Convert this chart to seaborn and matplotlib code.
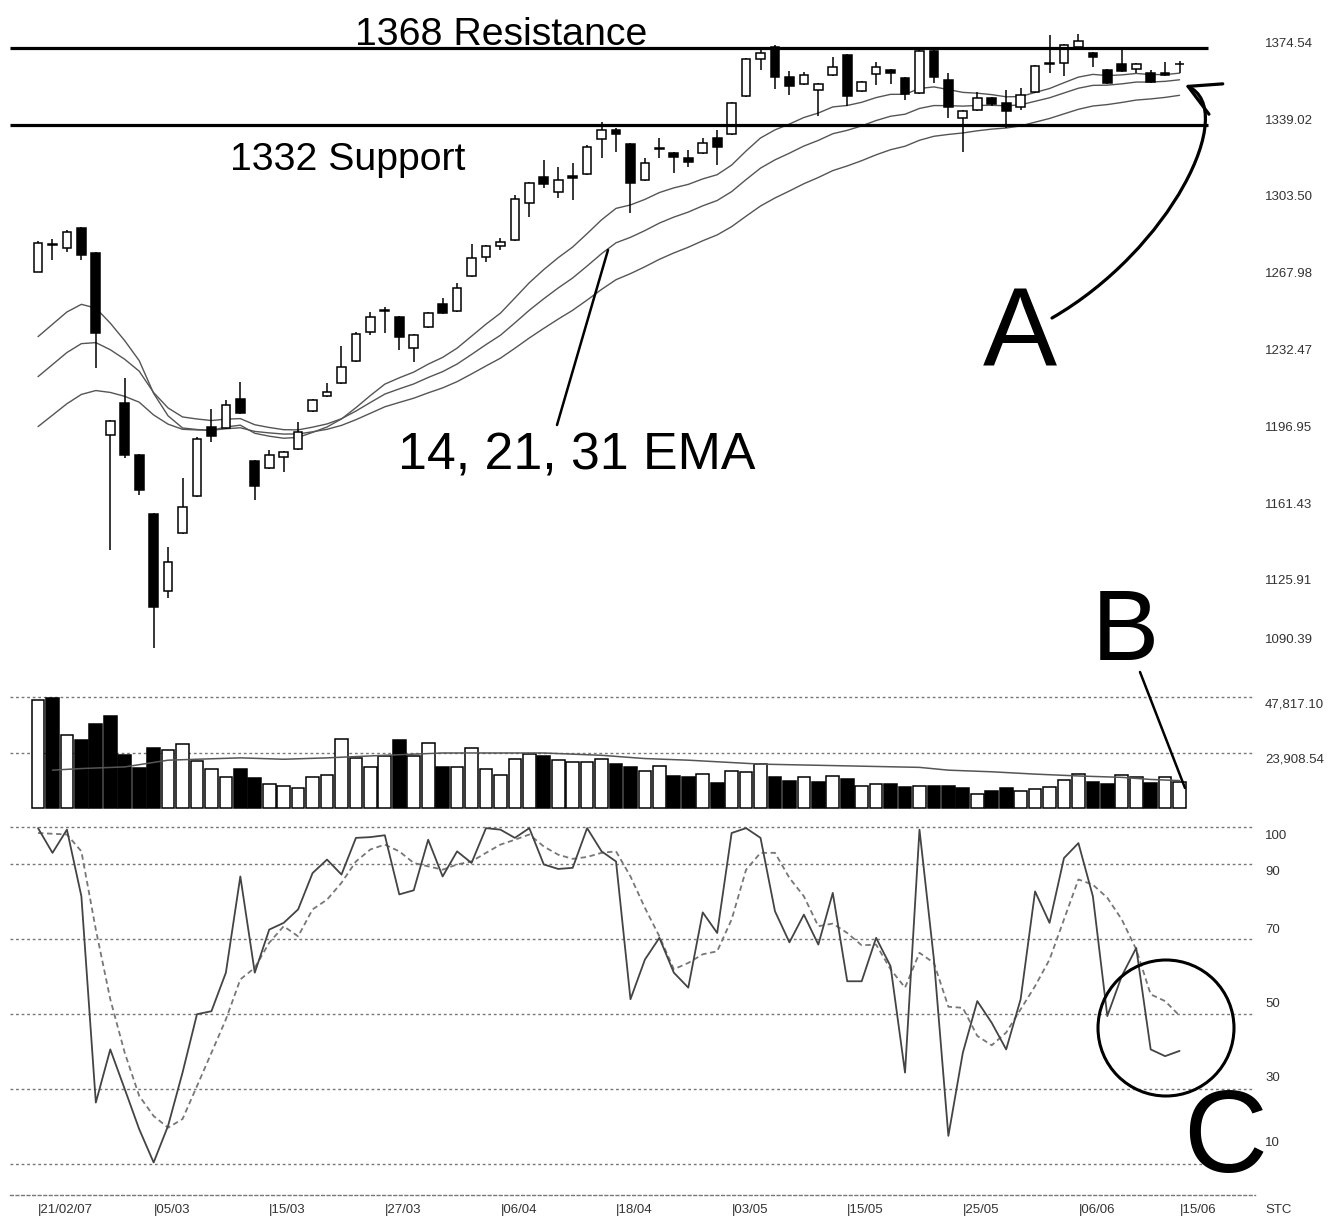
import matplotlib
matplotlib.use('Agg')
import matplotlib.pyplot as plt
import matplotlib.transforms as mtransforms
from matplotlib import font_manager
from matplotlib.patches import Circle, FancyArrowPatch
from matplotlib.path import Path
from matplotlib.lines import Line2D
import numpy as np
import pandas as pd
import seaborn as sns

# daily candles, 21/02/07 .. 15/06/07
opens = [1269.1, 1281.6, 1280.0, 1289.2, 1277.9, 1193.6, 1208.6, 1184.4, 1157.1, 1121.6,
         1148.1, 1165.4, 1197.5, 1196.7, 1210.1, 1181.7, 1178.2, 1183.6, 1187.0, 1204.7,
         1211.7, 1217.8, 1227.8, 1241.4, 1251.0, 1248.3, 1233.7, 1243.4, 1254.2, 1251.1,
         1267.1, 1276.1, 1281.0, 1283.8, 1301.1, 1313.1, 1306.1, 1313.4, 1314.3, 1330.6,
         1334.7, 1328.2, 1311.5, 1326.1, 1323.9, 1321.6, 1324.2, 1330.8, 1332.8, 1350.4,
         1367.4, 1373.2, 1359.3, 1356.0, 1353.2, 1360.1, 1369.4, 1352.9, 1360.6, 1362.4,
         1358.6, 1351.6, 1371.4, 1357.8, 1340.1, 1343.9, 1349.6, 1347.3, 1345.5, 1352.4,
         1365.4, 1365.5, 1373.2, 1370.4, 1362.4, 1365.2, 1362.7, 1360.9, 1361.2, 1365.0]
highs = [1283.3, 1284.3, 1288.4, 1289.9, 1278.3, 1200.6, 1219.8, 1184.9, 1157.6, 1141.9,
         1173.9, 1192.8, 1205.5, 1209.8, 1218.3, 1182.2, 1186.7, 1186.4, 1199.8, 1210.3,
         1217.5, 1234.8, 1241.4, 1250.6, 1253.0, 1248.8, 1240.4, 1250.7, 1256.8, 1263.8,
         1281.9, 1281.5, 1284.6, 1304.6, 1310.5, 1320.8, 1317.7, 1319.3, 1327.8, 1338.5,
         1335.6, 1328.7, 1321.6, 1330.8, 1324.4, 1325.4, 1330.8, 1334.7, 1347.8, 1367.9,
         1371.7, 1374.0, 1362.1, 1361.6, 1356.5, 1368.6, 1369.9, 1357.5, 1366.3, 1362.9,
         1359.1, 1371.9, 1371.9, 1360.9, 1343.9, 1352.4, 1350.1, 1353.2, 1354.0, 1364.8,
         1378.6, 1374.5, 1379.1, 1370.9, 1362.9, 1371.7, 1365.7, 1362.4, 1366.3, 1366.7]
lows = [1269.0, 1274.6, 1278.4, 1274.6, 1224.5, 1140.4, 1183.0, 1165.9, 1095.0, 1118.1,
        1147.6, 1164.9, 1190.5, 1196.2, 1203.1, 1163.6, 1177.7, 1176.6, 1186.5, 1204.2,
        1211.2, 1217.3, 1227.3, 1239.9, 1240.6, 1232.9, 1227.5, 1242.9, 1249.4, 1250.6,
        1266.6, 1273.8, 1279.2, 1283.3, 1294.6, 1307.7, 1303.1, 1302.3, 1313.8, 1321.6,
        1324.6, 1296.4, 1311.0, 1321.6, 1314.9, 1317.7, 1323.7, 1318.5, 1332.3, 1349.9,
        1362.4, 1353.5, 1350.9, 1355.5, 1341.2, 1359.6, 1345.8, 1352.4, 1355.5, 1355.9,
        1348.6, 1351.1, 1356.3, 1340.1, 1324.6, 1343.4, 1345.8, 1335.5, 1343.9, 1351.9,
        1360.9, 1359.6, 1372.7, 1364.0, 1355.8, 1361.6, 1360.9, 1356.5, 1359.8, 1361.2]
closes = [1282.3, 1282.0, 1287.6, 1276.9, 1241.0, 1200.2, 1184.4, 1168.2, 1114.2, 1135.0,
          1160.4, 1191.6, 1193.1, 1207.5, 1203.6, 1170.0, 1184.4, 1185.9, 1195.1, 1209.8,
          1213.6, 1225.2, 1240.2, 1248.3, 1251.4, 1239.1, 1239.9, 1250.2, 1249.9, 1261.5,
          1275.3, 1281.0, 1283.0, 1302.6, 1310.0, 1309.6, 1311.5, 1312.5, 1327.0, 1334.7,
          1332.8, 1310.3, 1319.3, 1326.3, 1322.0, 1320.0, 1328.5, 1326.7, 1347.3, 1367.4,
          1370.1, 1359.0, 1355.0, 1360.1, 1356.0, 1363.7, 1350.4, 1357.0, 1363.9, 1360.9,
          1351.3, 1371.4, 1359.3, 1345.5, 1343.5, 1349.3, 1346.7, 1343.5, 1350.9, 1364.3,
          1365.7, 1374.0, 1376.0, 1368.6, 1356.3, 1362.1, 1365.2, 1357.0, 1360.3, 1365.2]
volume = [46500, 47500, 31600, 29100, 36200, 39700, 22700, 17300, 25800, 24800,
          27700, 20300, 16700, 13500, 16700, 12900, 10200, 9500, 8800, 13500,
          14300, 29700, 21600, 17500, 22600, 29100, 22600, 28100, 17500, 17500,
          25700, 16900, 14300, 20900, 23400, 22300, 20700, 20000, 20000, 21000,
          18900, 17500, 16000, 18300, 13900, 13500, 14500, 10600, 16000, 15500,
          18900, 13500, 11600, 13500, 11400, 13800, 12300, 9500, 10200, 10200,
          8900, 9500, 9600, 9600, 8500, 6000, 7500, 8500, 7500, 8100,
          8900, 12100, 14500, 11400, 10200, 14200, 13200, 10600, 13500, 11100]
# volume average line, read at a few days
vol_avg_day = [1, 3, 6, 9, 14, 17, 20, 24, 28, 35, 39, 42, 45, 50, 54, 61, 63, 66, 69, 72, 75, 77, 79]
vol_avg = [16300, 17000, 17700, 20600, 21600, 21000, 21600, 22700, 23700, 23700, 22700, 21300,
           20600, 18900, 18400, 17500, 16300, 15600, 14600, 13800, 13200, 12300, 11800]
stc = [99.7, 93.1, 99.3, 81.5, 26.4, 40.6, 30.0, 19.3, 10.4, 20.2,
       34.4, 50.0, 50.8, 61.1, 86.8, 61.1, 72.6, 74.4, 78.0, 87.7,
       91.3, 87.3, 97.1, 97.3, 97.8, 82.0, 83.1, 96.6, 86.8, 93.5,
       90.4, 99.7, 99.3, 97.1, 99.7, 90.0, 88.8, 89.1, 99.7, 93.5,
       90.8, 54.0, 64.6, 70.4, 61.1, 57.1, 77.2, 71.7, 98.4, 99.7,
       97.1, 77.5, 69.2, 76.6, 68.6, 82.4, 58.8, 58.8, 70.4, 62.8,
       34.4, 99.3, 64.6, 17.5, 39.7, 53.5, 47.7, 40.6, 54.0, 82.8,
       74.4, 91.7, 95.7, 81.5, 49.5, 60.2, 67.7, 40.6, 38.8, 40.2]
stc_signal = [98.4, 98.2, 98.0, 93.5, 72.6, 54.0, 39.7, 28.2, 22.8, 19.7,
              22.0, 30.8, 39.7, 48.6, 59.3, 62.4, 69.1, 73.5, 70.8, 78.0,
              80.6, 85.1, 90.8, 94.0, 95.3, 93.5, 90.4, 89.5, 88.6, 90.0,
              90.8, 93.1, 95.3, 96.6, 98.0, 94.8, 92.6, 91.5, 92.0, 93.1,
              93.5, 86.8, 78.4, 70.8, 62.0, 63.7, 66.0, 66.8, 75.3, 88.6,
              93.1, 93.1, 86.4, 81.5, 73.5, 74.2, 71.7, 68.4, 68.6, 62.0,
              57.1, 66.4, 63.7, 52.0, 51.7, 44.2, 41.7, 45.1, 51.3, 57.5,
              64.6, 75.3, 86.0, 84.6, 81.1, 75.3, 67.3, 55.3, 53.5, 49.6]
ema_spans = [14, 21, 31]
ema_start = [1239.1, 1220.6, 1197.5]
resistance = 1372.6
support = 1337.0
price_ticks = [1374.54, 1339.02, 1303.50, 1267.98, 1232.47, 1196.95, 1161.43, 1125.91, 1090.39]
volume_ticks = [47817.10, 23908.54]
stc_ticks = [100, 90, 70, 50, 30, 10]
date_ticks = [0, 8, 16, 24, 32, 40, 48, 56, 64, 72, 79]
date_labels = ['21/02/07', '05/03', '15/03', '27/03', '06/04', '18/04',
               '03/05', '15/05', '25/05', '06/06', '15/06']

sns.set_theme(style='white')
plt.rcParams['font.family'] = ['Liberation Sans', 'DejaVu Sans']
names = {f.name for f in font_manager.fontManager.ttflist}
narrow = 'Liberation Sans Narrow' in names
big_font = 'Liberation Sans Narrow' if narrow else 'Liberation Sans'
big_k = 1.0 if narrow else 0.83      # regular width font is wider than the narrow one
letter_k = 1.0 if narrow else 0.93

W, H = 1338, 1219
fig = plt.figure(figsize=(W / 100, H / 100), dpi=100)
px = mtransforms.Affine2D().scale(1, -1).translate(0, H)  # pixel coords, origin top-left


def panel(top, bottom):
    return fig.add_axes([10 / W, 1 - bottom / H, 1245 / W, (bottom - top) / H])


ax_p = panel(0, 668)
ax_v = panel(688, 810)
ax_s = panel(822, 1195)
xlim = (-1.94, 84.22)

df = pd.DataFrame({'open': opens, 'high': highs, 'low': lows, 'close': closes, 'volume': volume})
df['day'] = np.arange(len(df))

# PRICE PANEL
for span, start in zip(ema_spans, ema_start):
    seeded = df['close'].copy()
    seeded.iloc[0] = start
    df[f'ema{span}'] = seeded.ewm(span=span, adjust=False).mean()
    sns.lineplot(data=df, x='day', y=f'ema{span}', ax=ax_p, color='#555555', lw=1.0, zorder=1)

up = df['close'] >= df['open']
ax_p.vlines(df['day'], df['low'], df['high'], color='black', lw=1.1, zorder=2)
ax_p.bar(df['day'], (df['close'] - df['open']).abs().clip(lower=0.3),
         bottom=df[['open', 'close']].min(axis=1), width=0.6,
         color=np.where(up, 'white', 'black'), edgecolor='black', linewidth=1.1, zorder=3)
ax_p.hlines([resistance, support], xlim[0], 81.0, color='black', lw=2.3, zorder=4)
ax_p.set_ylim(1085.85, 1394.8)

# VOLUME PANEL
down = df['close'].diff() < 0
ax_v.bar(df['day'], df['volume'], width=0.88, color=np.where(down, 'black', 'white'),
         edgecolor='black', linewidth=1.1, zorder=3)
sns.lineplot(x=vol_avg_day, y=vol_avg, ax=ax_v, color='#555555', lw=1.1, zorder=4)
for v in volume_ticks:
    ax_v.axhline(v, color='#777777', lw=1.0, ls=(0, (2, 2)), zorder=1)
ax_v.set_ylim(-862, 51696)

# STC PANEL
stc_df = pd.DataFrame({'day': df['day'], 'stc': stc, 'signal': stc_signal})
for v in stc_ticks:
    ax_s.axhline(v, color='#777777', lw=1.0, ls=(0, (2, 2)), zorder=1)
sns.lineplot(data=stc_df, x='day', y='signal', ax=ax_s, color='#777777', lw=1.3,
             linestyle=(0, (3, 2)), zorder=2)
sns.lineplot(data=stc_df, x='day', y='stc', ax=ax_s, color='#444444', lw=1.3, zorder=3)
ax_s.set_ylim(1.71, 101.34)

for ax in (ax_p, ax_v, ax_s):
    ax.set_xlim(*xlim)
    ax.set_xticks([])
    ax.set_yticks([])
    ax.set_xlabel('')
    ax.set_ylabel('')
    sns.despine(ax=ax, left=True, bottom=True)
ax_s.spines['bottom'].set_visible(True)
ax_s.spines['bottom'].set_color('#777777')
ax_s.spines['bottom'].set_linewidth(1.0)
ax_s.spines['bottom'].set_linestyle((0, (2, 2)))


def shifted(dy):
    return mtransforms.ScaledTranslation(0, dy / 100, fig.dpi_scale_trans)


def right_labels(ax, values, texts, offsets):
    base = mtransforms.blended_transform_factory(ax.transAxes, ax.transData)
    for v, t, dy in zip(values, texts, offsets):
        ax.text(1.008, v, t, transform=base + shifted(dy), ha='left', va='center',
                fontsize=9.5, color='#333333')


right_labels(ax_p, price_ticks, [f'{v:.2f}' for v in price_ticks], [0] * 8 + [18])
right_labels(ax_v, volume_ticks, [f'{v:,.2f}' for v in volume_ticks], [-7, -7])
right_labels(ax_s, stc_ticks, [str(v) for v in stc_ticks], [-9, -8, 9, 10, 11, 21])

date_tr = mtransforms.blended_transform_factory(ax_s.transData, ax_s.transAxes) + shifted(-15)
for d, lab in zip(date_ticks, date_labels):
    ax_s.text(d, 0, '|' + lab, transform=date_tr, ha='left', va='center',
              fontsize=9.5, color='#333333')
fig.text(1265, 1210, 'STC', transform=px, ha='left', va='center', fontsize=9.5, color='#333333')


# ANNOTATIONS
def big(x, y, s, size, ha='left'):
    fig.text(x, y, s, transform=px, ha=ha, va='baseline', fontsize=size,
             family=big_font, color='black')


big(355, 45, '1368 Resistance', 34 * big_k)
big(230, 170, '1332 Support', 34 * big_k)
big(398, 470, '14, 21, 31 EMA', 45 * big_k)
big(1020, 365, 'A', 86 * letter_k, ha='center')
big(1125, 660, 'B', 78 * letter_k, ha='center')
big(1225, 1172, 'C', 90 * letter_k, ha='center')

fig.add_artist(Line2D([557, 608], [425, 250], transform=px, color='black', lw=1.8))
fig.add_artist(Line2D([1140, 1185], [672, 788], transform=px, color='black', lw=1.8))
fig.add_artist(Circle((1166, 1028), 68, transform=px, fill=False, lw=2.2, color='black'))
arrow_path = Path([(1052, 318), (1170, 250), (1240, 110), (1185, 85)],
                  [Path.MOVETO, Path.CURVE4, Path.CURVE4, Path.CURVE4])
fig.add_artist(FancyArrowPatch(path=arrow_path, transform=px, color='black', lw=2.3,
                               arrowstyle='->,head_length=0.55,head_width=0.3',
                               mutation_scale=40))

fig.savefig('out.png', dpi=100)
